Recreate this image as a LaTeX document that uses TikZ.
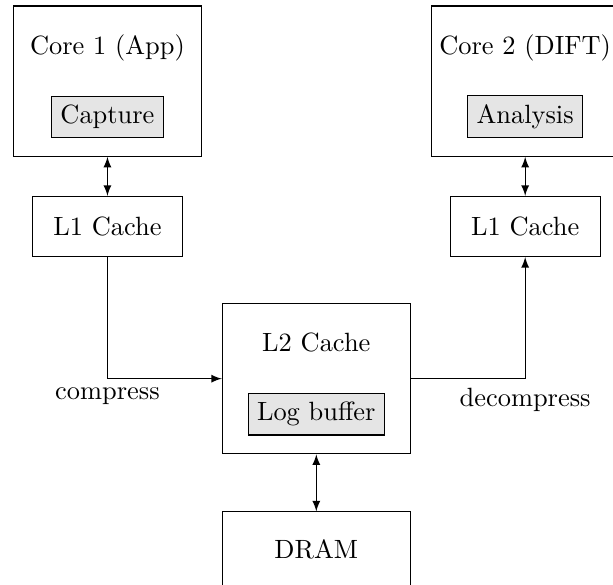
\documentclass[tikz,border=0pt]{standalone}
\usepackage{tikz}
\usetikzlibrary{shapes, calc, arrows, positioning}

\begin{document}
\begin{tikzpicture}[
    arrowstyle/.style={draw, -latex},
    biarrow/.style={draw, latex-latex},
    core/.style={rectangle, draw, minimum width=2.5cm, minimum height=2cm},
    cache/.style={rectangle, draw, minimum width=2cm, minimum height=0.8cm},
    memory/.style={rectangle, draw, minimum width=2.5cm, minimum height=1cm},
    unit/.style={rectangle, draw, fill=gray!20}
]
\clip (0,0) rectangle (8.159,-7.773);

\node (Core1) [core] at (1.43,-1.08) {};
\node (Core1Label) [below=0.27cm of Core1.north] {Core 1 (App)};
\node (Capture) [unit, above=0.25cm of Core1.south] {Capture};
\node (L1App) [cache, below=0.52cm of Core1] {L1 Cache};

\node (Core2) [core] at (6.99,-1.08) {};
\node (Core2Label) [below=0.27cm of Core2.north] {Core 2 (DIFT)};
\node (Analysis) [unit, above=0.25cm of Core2.south] {Analysis};
\node (L1Dift) [cache, below=0.52cm of Core2] {L1 Cache};

\node (L2) [core] at (4.21,-5.04) {};
\node (L2Label) [below=0.27cm of L2.north] {L2 Cache};
\node (LogBuffer) [unit, above=0.25cm of L2.south] {Log buffer};
\node (DRAM) [memory, below=0.76cm of L2] {DRAM};

\draw[biarrow] (Core1) -- (L1App);
\draw[biarrow] (Core2) -- (L1Dift);
\draw[arrowstyle] (L1App.south) |- node[pos=0.5, below] {compress} (L2.west);
\draw[arrowstyle] (L2.east) -| node[pos=0.5, below] {decompress} (L1Dift.south);
\draw[biarrow] (L2) -- (DRAM);

\end{tikzpicture}
\end{document}
